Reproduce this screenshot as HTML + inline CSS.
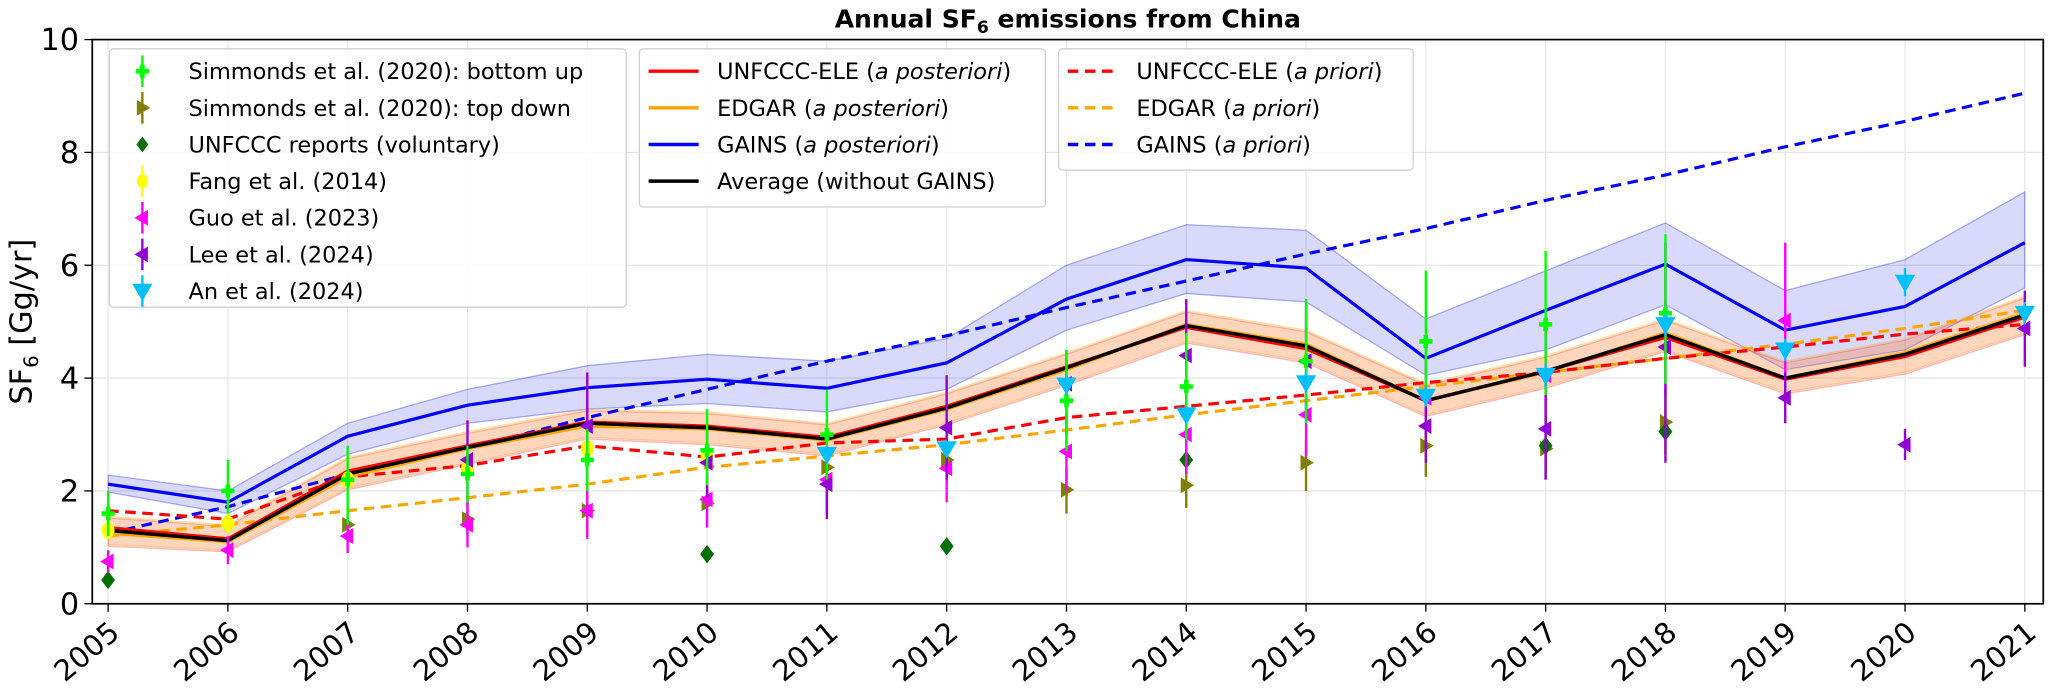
<!DOCTYPE html>
<html><head><meta charset="utf-8"><style>
html,body{margin:0;padding:0;background:#fff;}
svg{display:block;font-family:"DejaVu Sans","Liberation Sans",sans-serif;}
</style></head><body>
<svg id="chart" width="2067" height="690" viewBox="0 0 1568 523.4" xmlns="http://www.w3.org/2000/svg">
<g id="grid"></g>
<g id="bands"></g>
<g id="lines"></g>
<g id="marks"></g>
<rect x="70" y="30" width="1480" height="428" fill="none" stroke="#000" stroke-width="1.3"/>
<g id="axes"></g>
<text x="810" y="21" text-anchor="middle" font-weight="bold" font-size="19">Annual SF<tspan font-size="13" dy="4">6</tspan><tspan dy="-4"> emissions from China</tspan></text>
<text transform="translate(24,244) rotate(-90)" text-anchor="middle" font-size="23">SF<tspan font-size="15" dy="5">6</tspan><tspan dy="-5"> [Gg/yr]</tspan></text>
<g id="legend"></g>
</svg>
<script>
const years=[2005,2006,2007,2008,2009,2010,2011,2012,2013,2014,2015,2016,2017,2018,2019,2020,2021];
const yTicks=[0,2,4,6,8,10];
const eleSPost=[1.35,1.15,2.35,2.8,3.22,3.15,2.95,3.5,4.2,4.9,4.52,3.6,4.12,4.72,3.98,4.38,5.08];
const edgarPost=[1.25,1.1,2.25,2.75,3.15,3.1,2.9,3.45,4.15,4.95,4.6,3.6,4.1,4.8,4.0,4.45,5.15];
const avgPost=[1.3,1.12,2.3,2.77,3.2,3.12,2.92,3.47,4.18,4.93,4.57,3.6,4.12,4.77,4.0,4.42,5.12];
const avgBandHi=[1.55,1.4,2.6,3.05,3.45,3.4,3.2,3.75,4.45,5.2,4.85,3.9,4.4,5.05,4.3,4.7,5.45];
const avgBandLo=[1.05,0.95,2.05,2.5,2.95,2.85,2.65,3.2,3.9,4.65,4.3,3.35,3.85,4.5,3.75,4.1,4.8];
const gainsPost=[2.12,1.8,2.97,3.52,3.83,3.98,3.82,4.27,5.4,6.1,5.95,4.35,5.2,6.02,4.85,5.27,6.4];
const gainsHi=[2.28,2.0,3.2,3.8,4.22,4.42,4.3,4.7,6.0,6.72,6.62,5.05,5.9,6.75,5.55,6.1,7.3];
const gainsLo=[1.98,1.6,2.65,3.2,3.45,3.55,3.4,3.8,4.85,5.5,5.35,4.05,4.5,5.3,4.15,4.5,5.6];
const elePrior=[1.65,1.5,2.25,2.45,2.8,2.6,2.85,2.92,3.3,3.5,3.7,3.92,4.1,4.35,4.55,4.78,4.95];
const edgarPrior=[1.2,1.4,1.65,1.88,2.12,2.42,2.62,2.82,3.08,3.35,3.6,3.85,4.1,4.35,4.6,4.88,5.2];
const gainsPrior=[1.25,1.72,2.3,2.75,3.3,3.8,4.3,4.75,5.25,5.72,6.2,6.65,7.15,7.6,8.1,8.55,9.05];
const simBU=[[2005,1.6,1.2,2.0],[2006,2.0,1.6,2.55],[2007,2.2,1.4,2.8],[2008,2.3,1.8,2.8],[2009,2.55,2.0,3.1],[2010,2.72,2.1,3.45],[2011,3.0,2.2,3.8],[2013,3.6,2.7,4.5],[2014,3.85,2.9,4.8],[2015,4.3,3.2,5.4],[2016,4.65,3.5,5.9],[2017,4.95,3.7,6.25],[2018,5.15,3.9,6.55]];
const simTD=[[2007,1.4,1.1,1.7],[2008,1.5,1.2,1.8],[2009,1.65,1.3,2.0],[2010,1.78,1.4,2.1],[2011,2.42,2.0,2.8],[2012,2.55,2.1,2.9],[2013,2.02,1.6,2.4],[2014,2.1,1.7,2.5],[2015,2.5,2.0,2.9],[2016,2.8,2.25,3.3],[2017,2.75,2.2,3.3],[2018,3.22,2.65,3.8]];
const unfccc=[[2005,0.42],[2010,0.88],[2012,1.02],[2014,2.55],[2017,2.8],[2018,3.05]];
const fang=[[2005,1.3,1.2,1.4],[2006,1.42,1.25,1.6],[2007,2.2,2.05,2.35],[2008,2.4,2.25,2.55],[2009,2.75,2.6,2.9],[2010,2.6,2.45,2.75]];
const guo=[[2005,0.75,0.55,0.95],[2006,0.95,0.7,1.2],[2007,1.2,0.9,1.5],[2008,1.4,1.0,1.8],[2009,1.65,1.15,2.1],[2010,1.85,1.35,2.3],[2011,2.2,1.6,2.8],[2012,2.4,1.8,3.0],[2013,2.7,2.0,3.4],[2014,3.0,2.3,3.7],[2015,3.35,2.6,4.1],[2016,3.65,2.9,4.4],[2017,4.05,3.2,4.9],[2018,4.55,3.7,5.4],[2019,5.02,3.6,6.4]];
const lee=[[2008,2.55,1.8,3.25],[2009,3.15,2.2,4.1],[2010,2.5,1.9,3.1],[2011,2.12,1.5,2.7],[2012,3.12,2.2,4.05],[2013,3.9,3.0,4.5],[2014,4.4,3.4,5.4],[2015,4.3,3.3,5.3],[2016,3.15,2.5,3.8],[2017,3.1,2.2,4.0],[2018,4.55,2.5,6.4],[2019,3.65,3.2,4.1],[2020,2.82,2.55,3.1],[2021,4.88,4.2,5.55]];
const an=[[2011,2.65,2.5,2.8],[2012,2.75,2.6,2.9],[2013,3.88,3.7,4.05],[2014,3.35,3.2,3.5],[2015,3.92,3.75,4.1],[2016,3.68,3.5,3.85],[2017,4.05,3.85,4.25],[2018,4.95,4.75,5.15],[2019,4.5,4.3,4.7],[2020,5.7,5.45,5.95],[2021,5.15,4.95,5.35]];

const NS='http://www.w3.org/2000/svg';
const X=y=>82+(y-2005)*90.875;
const Y=v=>458-v*42.8;
function mk(tag,attrs,parent){const e=document.createElementNS(NS,tag);for(const k in attrs)e.setAttribute(k,attrs[k]);parent.appendChild(e);return e;}
const grid=document.getElementById('grid'),axes=document.getElementById('axes'),bands=document.getElementById('bands'),lines=document.getElementById('lines'),marks=document.getElementById('marks'),legend=document.getElementById('legend');

years.forEach(yr=>{
  const g=mk('line',{x1:X(yr),x2:X(yr),y1:30,y2:458,stroke:'#e3e3e3','stroke-width':0.8},grid);
  
  const t=mk('line',{x1:X(yr),x2:X(yr),y1:458,y2:464,stroke:'#000','stroke-width':1},axes);
  
  const l=mk('text',{x:0,y:0,'font-size':22,'text-anchor':'end',transform:`translate(${X(yr)+10},${482}) rotate(-40)`},axes);
  l.textContent=yr;
});
yTicks.forEach(v=>{
  const g=mk('line',{x1:70,x2:1550,y1:Y(v),y2:Y(v),stroke:'#e3e3e3','stroke-width':0.8},grid);
  
  const t=mk('line',{x1:64,x2:70,y1:Y(v),y2:Y(v),stroke:'#000','stroke-width':1},axes);
  
  const l=mk('text',{x:60,y:Y(v)+8,'font-size':23,'text-anchor':'end'},axes);
  l.textContent=v;
});

function band(hi,lo,fill,stroke,op,name){
  let d='M'+years.map((y,i)=>X(y)+','+Y(hi[i])).join('L')+'L'+years.slice().reverse().map((y,j)=>X(y)+','+Y(lo[years.length-1-j])).join('L')+'Z';
  const p=mk('path',{d:d,fill:fill,'fill-opacity':op,stroke:stroke,'stroke-opacity':0.3,'stroke-width':1},bands);
  
}
band(gainsHi,gainsLo,'#0000ee','#0000ee',0.15,'gains-band');
band(avgBandHi,avgBandLo,'#ffa500','#ffa500',0.18,'edgar-band');
band(avgBandHi.map(v=>v-0.03),avgBandLo.map(v=>v-0.03),'#ff3030','#ff3030',0.13,'ele-band');

function line(vals,color,dash,w,name){
  const p=mk('polyline',{points:years.map((y,i)=>X(y)+','+Y(vals[i])).join(' '),fill:'none',stroke:color,'stroke-width':w,'stroke-dasharray':dash||'none'},lines);
  
}
line(gainsPrior,'#0000ff','8,5',2.4,'gains-a-priori-line');
line(edgarPrior,'#ffa500','8,5',2.4,'edgar-a-priori-line');
line(elePrior,'#ff0000','8,5',2.4,'unfccc-ele-a-priori-line');
line(gainsPost,'#0000ff','',2.4,'gains-a-posteriori-line');
line(edgarPost,'#ffa500','',2.4,'edgar-a-posteriori-line');
line(eleSPost,'#ff0000','',2.4,'unfccc-ele-a-posteriori-line');
line(avgPost,'#000000','',2.6,'average-line');

function shape(type,cx,cy,color,s,parent){
  let d;
  if(type==='plus'){const a=s*0.35;d=`M${cx-a},${cy-s}h${2*a}v${s-a}h${s-a}v${2*a}h${-(s-a)}v${s-a}h${-2*a}v${-(s-a)}h${-(s-a)}v${-2*a}h${s-a}z`;}
  else if(type==='right')d=`M${cx-s*0.7},${cy-s}L${cx+s},${cy}L${cx-s*0.7},${cy+s}Z`;
  else if(type==='left')d=`M${cx+s*0.7},${cy-s}L${cx-s},${cy}L${cx+s*0.7},${cy+s}Z`;
  else if(type==='down')d=`M${cx-s*1.1},${cy-s*0.8}L${cx+s*1.1},${cy-s*0.8}L${cx},${cy+s*1.1}Z`;
  else if(type==='diamond')d=`M${cx},${cy-s}L${cx+s*0.75},${cy}L${cx},${cy+s}L${cx-s*0.75},${cy}Z`;
  if(type==='circle')return mk('ellipse',{cx:cx,cy:cy,rx:s*0.7,ry:s*0.9,fill:color},parent);
  return mk('path',{d:d,fill:color},parent);
}
function series(data,type,color,s,name){
  data.forEach(p=>{
    if(p.length>2){const e=mk('line',{x1:X(p[0]),x2:X(p[0]),y1:Y(p[2]),y2:Y(p[3]),stroke:color,'stroke-width':1.8},marks);
      }
    const m=shape(type,X(p[0]),Y(p[1]),color,s,marks);
    
  });
}
series(simTD,'right','#808000',6,'simmonds-top-down');
series(unfccc,'diamond','#007000',7,'unfccc-reports');
series(fang,'circle','#ffff00',7,'fang-2014');
series(guo,'left','#ff00ff',6,'guo-2023');
series(lee,'left','#9400d3',6,'lee-2024');
series(simBU,'plus','#00ff00',5,'simmonds-bottom-up');
series(an,'down','#00bfff',7,'an-2024');

function box(x,y,w,h,name){const r=mk('rect',{x:x,y:y,width:w,height:h,rx:3,fill:'#fff','fill-opacity':0.85,stroke:'#d0d0d0','stroke-width':1},legend);}
box(83,37,392,196,'legend-box-observations');
box(485,37,308,120,'legend-box-posteriori');
box(803,37,269,92,'legend-box-priori');
const l1=[['plus','#00ff00','Simmonds et al. (2020): bottom up'],['right','#808000','Simmonds et al. (2020): top down'],['diamond','#007000','UNFCCC reports (voluntary)'],['circle','#ffff00','Fang et al. (2014)'],['left','#ff00ff','Guo et al. (2023)'],['left','#9400d3','Lee et al. (2024)'],['down','#00bfff','An et al. (2024)']];
l1.forEach((e,i)=>{
  const cy=54+i*27.8;
  const g=mk('g',{},legend);
  if(e[0]!=='diamond'){mk('line',{x1:108,x2:108,y1:cy-12,y2:cy+12,stroke:e[1],'stroke-width':1.8},g);}
  shape(e[0],108,cy,e[1],e[0]==='down'?7:(e[0]==='plus'?5:6),g);
  const t=mk('text',{x:143,y:cy+6,'font-size':17},g);t.textContent=e[2];
});
function lineLegend(x0,y0,items){
  items.forEach((e,i)=>{
    const cy=y0+i*27.8;
    const g=mk('g',{},legend);
    mk('line',{x1:x0,x2:x0+38,y1:cy,y2:cy,stroke:e[0],'stroke-width':2.6,'stroke-dasharray':e[1]},g);
    const t=mk('text',{x:x0+52,y:cy+6,'font-size':17},g);
    t.innerHTML=e[2];
  });
}
lineLegend(492,54,[['#ff0000','none','UNFCCC-ELE (<tspan font-style="italic">a posteriori</tspan>)'],['#ffa500','none','EDGAR (<tspan font-style="italic">a posteriori</tspan>)'],['#0000ff','none','GAINS (<tspan font-style="italic">a posteriori</tspan>)'],['#000000','none','Average (without GAINS)']]);
lineLegend(810,54,[['#ff0000','8,5','UNFCCC-ELE (<tspan font-style="italic">a priori</tspan>)'],['#ffa500','8,5','EDGAR (<tspan font-style="italic">a priori</tspan>)'],['#0000ff','8,5','GAINS (<tspan font-style="italic">a priori</tspan>)']]);
</script>
</body></html>
